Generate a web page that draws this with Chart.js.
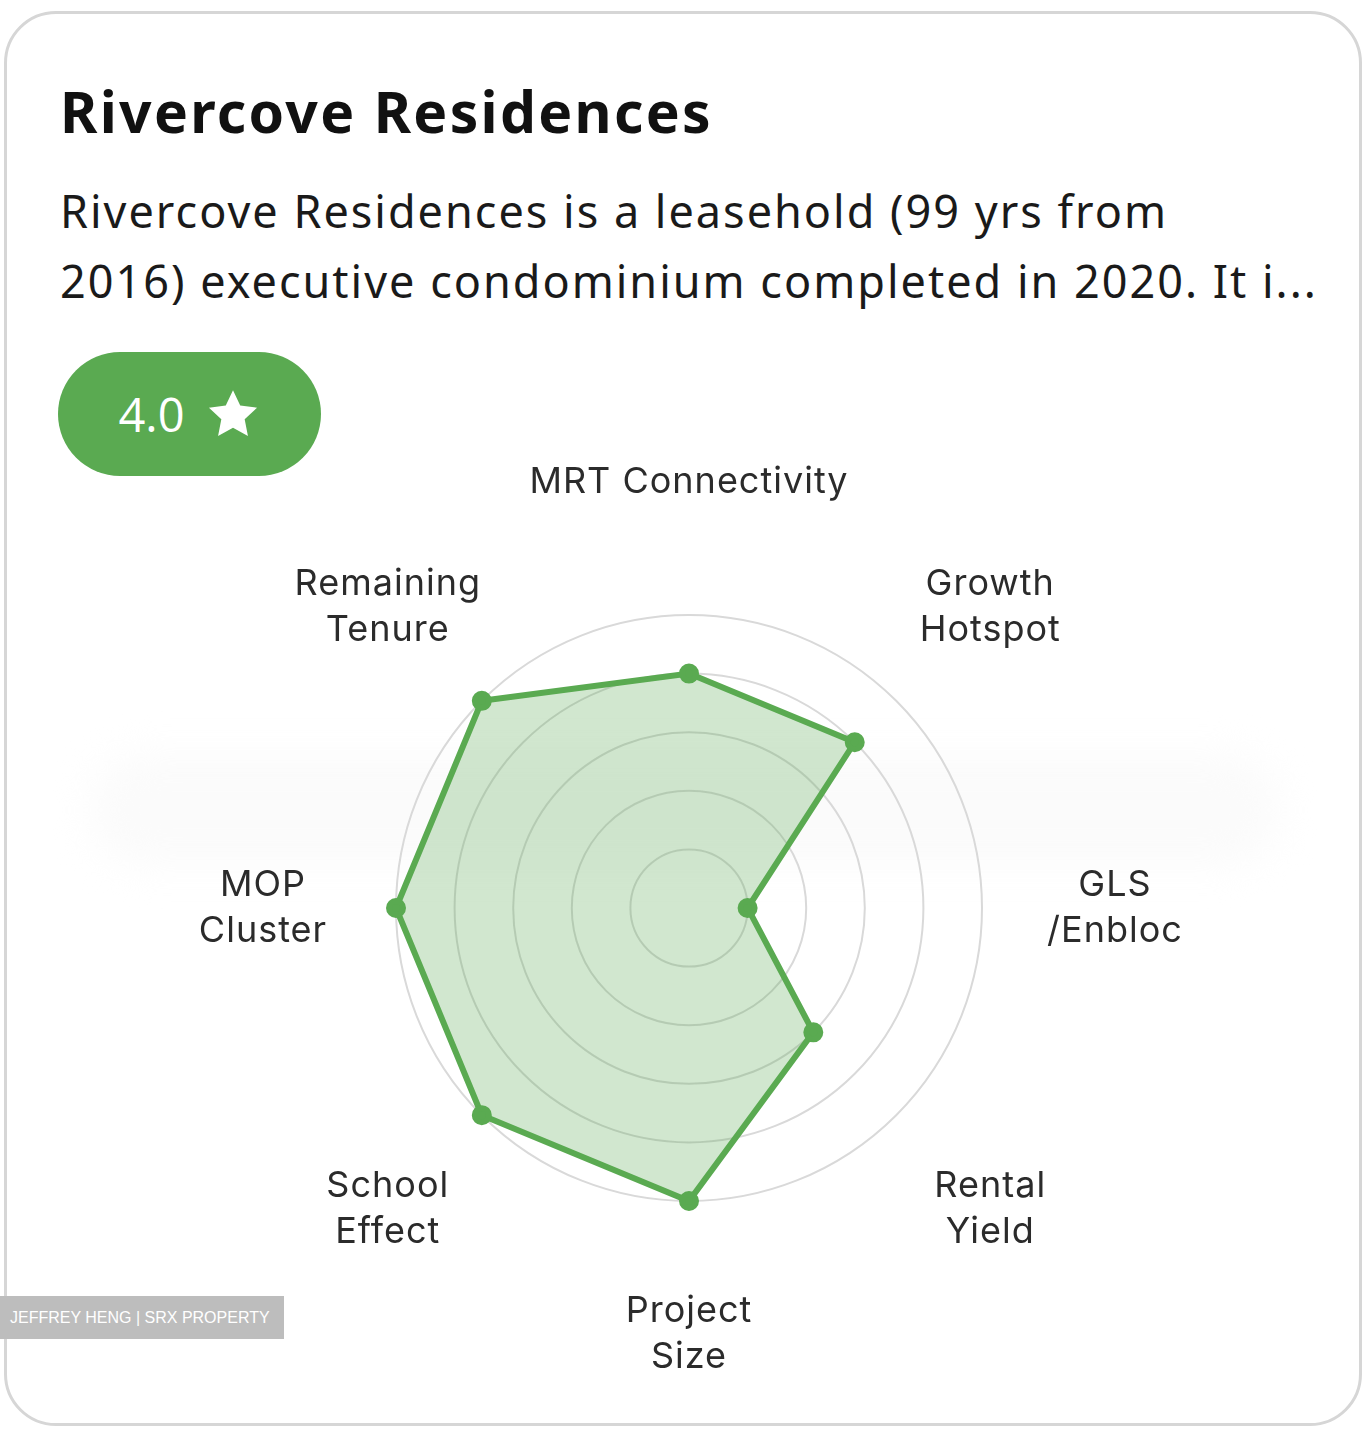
<!DOCTYPE html>
<html>
<head>
<meta charset="utf-8">
<script src="https://cdn.jsdelivr.net/npm/chart.js@4.4.1/dist/chart.umd.min.js"></script>
<style>
  html, body { margin: 0; padding: 0; background: #fff; }
  body { width: 1369px; height: 1440px; position: relative; overflow: hidden; font-family: "Noto Sans", "Lato", sans-serif; }
  .card {
    position: absolute; left: 4px; top: 11px; width: 1358px; height: 1415px;
    border: 3px solid #d6d6d6; border-radius: 52px; box-sizing: border-box; background: #fff;
  }
  .band {
    position: absolute; left: 90px; top: 755px; width: 1190px; height: 110px;
    background: #fbfbfb; filter: blur(18px); border-radius: 55px;
  }
  h1 {
    position: absolute; left: 60px; top: 76px; margin: 0;
    font-size: 57px; font-weight: 700; color: #111; letter-spacing: 2.3px; line-height: 70px; white-space: nowrap;
  }
  .desc {
    position: absolute; left: 60px; top: 176px; margin: 0;
    font-size: 45px; line-height: 70px; color: #1a1a1a; letter-spacing: 2px; white-space: nowrap;
  }
  .pill {
    position: absolute; left: 58px; top: 352px; width: 263px; height: 124px;
    border-radius: 62px; background: #5aaa51; color: #fff;
    font-family: "Open Sans", sans-serif; font-size: 47px;
    display: flex; align-items: center; justify-content: center; gap: 20px;
  }
  .pill svg { width: 56px; height: 56px; }
  #chartBox { position: absolute; left: 0; top: 440px; width: 1369px; height: 940px; }
  .mark {
    position: absolute; left: 0; top: 1296px; width: 284px; height: 43px;
    background: #bdbdbd; color: #fff; font-family: "Liberation Sans", Arial, sans-serif;
    font-size: 16px; line-height: 43px; padding-left: 10px; box-sizing: border-box; white-space: nowrap;
  }
</style>
</head>
<body>
<div class="card"></div>
<div class="band"></div>
<h1>Rivercove Residences</h1>
<p class="desc">Rivercove Residences is a leasehold (99 yrs from<br>2016) executive condominium completed in 2020. It i...</p>
<div class="pill"><span>4.0</span><svg viewBox="0 0 24 24"><path fill="#fff" d="M12 1.8l3.1 6.6 7.2.9-5.3 5 1.4 7.1L12 17.9l-6.4 3.5 1.4-7.1-5.3-5 7.2-.9z"/></svg></div>
<div id="chartBox"><canvas id="radar"></canvas></div>
<div class="mark">JEFFREY HENG | SRX PROPERTY</div>

<script>
const categories = [
  ["MRT Connectivity"],
  ["Growth", "Hotspot"],
  ["GLS", "/Enbloc"],
  ["Rental", "Yield"],
  ["Project", "Size"],
  ["School", "Effect"],
  ["MOP", "Cluster"],
  ["Remaining", "Tenure"]
];
const scores = [4, 4, 1, 3, 5, 5, 5, 5];
const scaleMax = 5;

const green = "#5aaa51";

// draw the axis labels centred on a ring outside the grid
const labelPlugin = {
  id: "centredLabels",
  afterDraw(chart) {
    const scale = chart.scales.r;
    const ctx = chart.ctx;
    ctx.save();
    ctx.font = "36px Inter, Roboto, sans-serif";
    ctx.letterSpacing = "1px";
    ctx.fillStyle = "#2b2b2b";
    ctx.textAlign = "center";
    ctx.textBaseline = "middle";
    const lineH = 46;
    categories.forEach((lines, i) => {
      const p = scale.getPointPosition(i, scale.drawingArea + 133);
      const top = p.y - (lines.length - 1) * lineH / 2;
      lines.forEach((t, j) => ctx.fillText(t, p.x, top + j * lineH));
    });
    ctx.restore();
  }
};

new Chart(document.getElementById("radar"), {
  type: "radar",
  data: {
    labels: categories,
    datasets: [{
      data: scores,
      borderColor: green,
      backgroundColor: "rgba(90, 170, 81, 0.28)",
      borderWidth: 6,
      pointRadius: 7,
      pointBackgroundColor: green,
      pointBorderColor: green,
      fill: true
    }]
  },
  options: {
    responsive: true,
    maintainAspectRatio: false,
    animation: false,
    layout: { padding: { left: 9, right: 0, top: 175, bottom: 179 } },
    plugins: { legend: { display: false }, tooltip: { enabled: false } },
    scales: {
      r: {
        min: 0,
        max: scaleMax,
        ticks: { display: false, stepSize: 1 },
        angleLines: { display: false },
        grid: { circular: true, color: "#d9d9d9", lineWidth: 2 },
        pointLabels: { display: false }
      }
    }
  },
  plugins: [labelPlugin]
});
</script>
</body>
</html>
